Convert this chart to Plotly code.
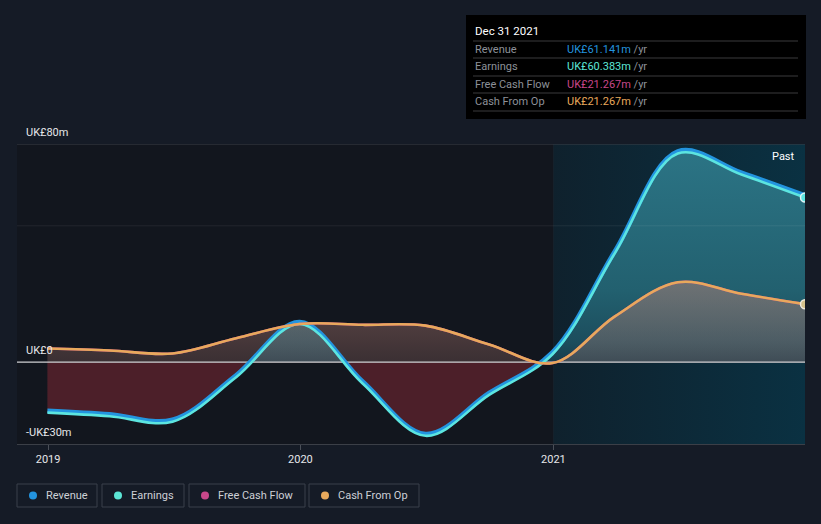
import plotly.graph_objects as go

# ---------------- data ----------------
dates = ['2018-12-31', '2019-03-31', '2019-06-30', '2019-09-30', '2019-12-31',
         '2020-03-31', '2020-06-30', '2020-09-30', '2020-12-31',
         '2021-03-31', '2021-06-30', '2021-09-30', '2021-12-31']
revenue = [-17.8, -19.1, -21.1, -4.8, 14.7, -7.1, -26.3, -11.3, 3.7, 40.7, 77.3, 69.5, 61.141]
earnings = [-18.5, -19.8, -21.8, -5.5, 14.0, -7.8, -27.0, -12.0, 3.0, 40.0, 76.5, 68.8, 60.383]
free_cash_flow = [5.0, 4.3, 3.2, 8.8, 14.0, 13.7, 13.4, 6.5, -0.3, 16.8, 29.3, 25.1, 21.267]
cash_from_op = [5.0, 4.3, 3.2, 8.8, 14.0, 13.7, 13.4, 6.5, -0.3, 16.8, 29.3, 25.1, 21.267]

year_ticks = ['2019-01-01', '2020-01-01', '2021-01-01']
year_labels = ['2019', '2020', '2021']
y_label_values = [80, 0, -30]
y_label_texts = ['UK£80m', 'UK£0', '-UK£30m']

tooltip_title = 'Dec 31 2021'
tooltip_names = ['Revenue', 'Earnings', 'Free Cash Flow', 'Cash From Op']
tooltip_values = ['UK£61.141m', 'UK£60.383m', 'UK£21.267m', 'UK£21.267m']
series_colors = ['#2394df', '#5ce5d5', '#c8478a', '#e8a95c']

x_range = ['2018-11-17', '2021-12-31']
y_range = [-30, 80]
past_start = '2021-01-01'

# ---------------- layout helpers (pixel -> paper) ----------------
W, H = 821, 524
ML, MR, MT, MB = 17, 16, 144, 80
PW, PH = W - ML - MR, H - MT - MB


def px(x):
    return (x - ML) / PW


def py(y):
    return (H - MB - y) / PH


FONT = 'Roboto, Arial, sans-serif'

fig = go.Figure()

# highlighted "Past" region background
fig.add_trace(go.Scatter(
    x=[past_start, x_range[1], x_range[1], past_start, past_start],
    y=[y_range[1], y_range[1], y_range[0], y_range[0], y_range[1]],
    mode='lines', line=dict(width=0, color='rgba(0,0,0,0)'),
    fill='toself',
    fillgradient=dict(type='horizontal',
                      colorscale=[[0, 'rgb(15,33,45)'], [1, 'rgb(10,49,66)']]),
    hoverinfo='skip', showlegend=False))

# earnings area (red below zero, teal above)
z = (0 - y_range[0]) / (y_range[1] - y_range[0])
fig.add_trace(go.Scatter(
    x=dates, y=earnings, mode='lines',
    line=dict(width=0, shape='spline', color='rgba(0,0,0,0)'),
    fill='tozeroy',
    fillgradient=dict(type='vertical', start=y_range[0], stop=y_range[1],
                      colorscale=[[0, 'rgb(76,31,41)'], [z - 0.0005, 'rgb(76,31,41)'],
                                  [z + 0.0005, 'rgb(24,60,76)'], [0.34, 'rgb(28,77,93)'],
                                  [0.51, 'rgb(34,96,111)'], [1, 'rgb(44,117,134)']]),
    hoverinfo='skip', showlegend=False))

# cash from op area
fig.add_trace(go.Scatter(
    x=dates, y=cash_from_op, mode='lines',
    line=dict(width=0, shape='spline', color='rgba(0,0,0,0)'),
    fill='tozeroy',
    fillgradient=dict(type='vertical', start=0, stop=30,
                      colorscale=[[0, 'rgba(180,124,114,0.25)'], [1, 'rgba(182,128,118,0.52)']]),
    hoverinfo='skip', showlegend=False))

# zero line (above fills)
fig.add_trace(go.Scatter(
    x=x_range, y=[0, 0], mode='lines',
    line=dict(width=1.3, color='#cfd0d3'), hoverinfo='skip', showlegend=False))

# lines
fig.add_trace(go.Scatter(x=dates, y=revenue, mode='lines',
                         line=dict(width=4.5, shape='spline', color=series_colors[0]),
                         hoverinfo='skip', showlegend=False))
fig.add_trace(go.Scatter(x=dates, y=earnings, mode='lines',
                         line=dict(width=2.6, shape='spline', color='#5ce5e0'),
                         hoverinfo='skip', showlegend=False))
fig.add_trace(go.Scatter(x=dates, y=free_cash_flow, mode='lines',
                         line=dict(width=2.6, shape='spline', color=series_colors[2]),
                         hoverinfo='skip', showlegend=False))
fig.add_trace(go.Scatter(x=dates, y=cash_from_op, mode='lines',
                         line=dict(width=2.6, shape='spline', color=series_colors[3]),
                         hoverinfo='skip', showlegend=False))

# end markers
fig.add_trace(go.Scatter(x=[dates[-1]], y=[earnings[-1]], mode='markers',
                         marker=dict(size=9, color='#5ce5e0', line=dict(width=1.5, color='#dff6f8')),
                         hoverinfo='skip', showlegend=False))
fig.add_trace(go.Scatter(x=[dates[-1]], y=[cash_from_op[-1]], mode='markers',
                         marker=dict(size=9, color='#d3c28c', line=dict(width=1.5, color='#f0ece0')),
                         hoverinfo='skip', showlegend=False))

shapes = []
# grid lines
shapes.append(dict(type='line', xref='paper', x0=0, x1=1, yref='y', y0=y_range[1], y1=y_range[1],
                   line=dict(color='#3b3f47', width=1), layer='above'))
shapes.append(dict(type='line', xref='paper', x0=0, x1=1, yref='y', y0=50, y1=50,
                   line=dict(color='rgba(255,255,255,0.07)', width=1), layer='above'))
shapes.append(dict(type='line', xref='x', x0=past_start, x1=past_start, yref='paper', y0=0, y1=1,
                   line=dict(color='rgba(255,255,255,0.06)', width=1), layer='below'))

annotations = []
# y labels
for v, t in zip(y_label_values, y_label_texts):
    ypix = (H - MB) - (v - y_range[0]) / (y_range[1] - y_range[0]) * PH - 12
    annotations.append(dict(x=px(24), y=py(ypix), xref='paper', yref='paper', text=t,
                            showarrow=False, xanchor='left', yanchor='middle',
                            font=dict(family=FONT, size=11, color='#e6e7ea')))

annotations.append(dict(x=px(797), y=py(156), xref='paper', yref='paper', text='Past',
                        showarrow=False, xanchor='right', yanchor='middle',
                        font=dict(family=FONT, size=11, color='#ffffff')))

# tooltip box
shapes.append(dict(type='rect', xref='paper', yref='paper', x0=px(466), x1=px(806),
                   y0=py(119), y1=py(15), fillcolor='#000000', line=dict(width=0), layer='above'))
for ly in [41, 58, 76, 93, 111]:
    shapes.append(dict(type='line', xref='paper', yref='paper', x0=px(473), x1=px(798),
                       y0=py(ly), y1=py(ly), line=dict(color='#3a3a3c', width=1), layer='above'))
annotations.append(dict(x=px(473), y=py(31), xref='paper', yref='paper', text=tooltip_title,
                        showarrow=False, xanchor='left', yanchor='middle',
                        font=dict(family=FONT, size=11.5, color='#ffffff')))
row_y = [49, 66.5, 84, 101.5]
for name, val, col, ry in zip(tooltip_names, tooltip_values, series_colors, row_y):
    annotations.append(dict(x=px(473), y=py(ry), xref='paper', yref='paper', text=name,
                            showarrow=False, xanchor='left', yanchor='middle',
                            font=dict(family=FONT, size=11, color='#8d9199')))
    annotations.append(dict(x=px(565), y=py(ry), xref='paper', yref='paper',
                            text="<span style='color:%s'>%s</span> /yr" % (col, val),
                            showarrow=False, xanchor='left', yanchor='middle',
                            font=dict(family=FONT, size=11, color='#8d9199')))

# custom legend
legend_boxes = [(17, 97), (102, 184), (189, 305), (309, 419)]
for (bx0, bx1), name, col in zip(legend_boxes, tooltip_names, series_colors):
    shapes.append(dict(type='rect', xref='paper', yref='paper', x0=px(bx0), x1=px(bx1),
                       y0=py(507), y1=py(484), line=dict(color='#3b404b', width=1),
                       fillcolor='rgba(0,0,0,0)', layer='above'))
    shapes.append(dict(type='circle', xref='paper', yref='paper', x0=px(bx0 + 12), x1=px(bx0 + 20),
                       y0=py(499.5), y1=py(491.5), line=dict(width=0), fillcolor=col, layer='above'))
    annotations.append(dict(x=px(bx0 + 27), y=py(495.5), xref='paper', yref='paper', text=name,
                            showarrow=False, xanchor='left', yanchor='middle',
                            font=dict(family=FONT, size=11, color='#cdd0d6')))

fig.update_layout(
    width=W, height=H,
    margin=dict(l=ML, r=MR, t=MT, b=MB, pad=0),
    paper_bgcolor='#151b26', plot_bgcolor='#12161e',
    showlegend=False,
    shapes=shapes, annotations=annotations,
    xaxis=dict(type='date', range=x_range, tickvals=year_ticks, ticktext=year_labels,
               showgrid=False, zeroline=False, showline=True, linecolor='#3b3f47', linewidth=1,
               ticks='outside', ticklen=5, tickcolor='#4a4f58',
               tickfont=dict(family=FONT, size=11, color='#e6e7ea'), fixedrange=True),
    yaxis=dict(range=y_range, showgrid=False, zeroline=False, showticklabels=False,
               showline=False, fixedrange=True),
    hovermode=False,
)

fig.write_html("out.html", config={'displayModeBar': False},
               post_script="document.body.style.margin='0px';document.body.style.background='#151b26';document.body.style.overflow='hidden';")
